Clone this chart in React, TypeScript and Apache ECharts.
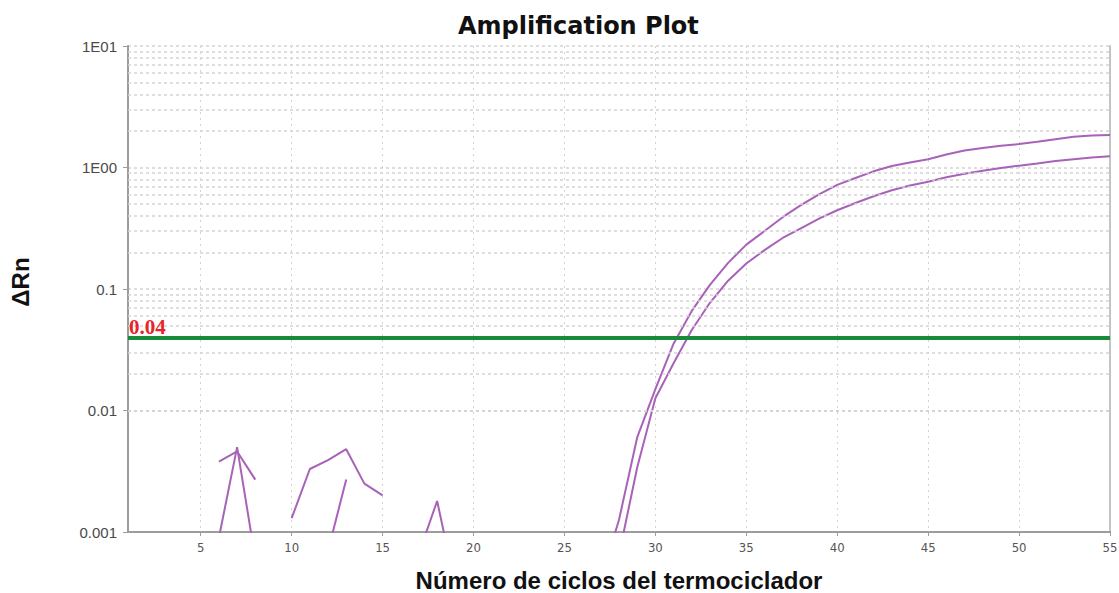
import React, { useEffect, useRef } from "react";
import * as echarts from "echarts";

// Cycle numbers and ΔRn readings for the two amplifying samples
const ampCycles = [27, 28, 29, 30, 31, 32, 33, 34, 35, 36, 37, 38, 39, 40, 41, 42, 43, 44, 45, 46, 47, 48, 49, 50, 51, 52, 53, 54, 55];
const sampleA = [0.0004, 0.00126, 0.006, 0.015, 0.0355, 0.066, 0.108, 0.164, 0.232, 0.3, 0.39, 0.49, 0.6, 0.72, 0.82, 0.93, 1.03, 1.1, 1.17, 1.28, 1.38, 1.45, 1.51, 1.56, 1.63, 1.71, 1.79, 1.83, 1.85];
const sampleB = [0.0002, 0.00065, 0.0034, 0.0126, 0.0245, 0.046, 0.077, 0.117, 0.162, 0.209, 0.263, 0.316, 0.38, 0.445, 0.51, 0.58, 0.65, 0.71, 0.764, 0.83, 0.89, 0.94, 0.99, 1.036, 1.08, 1.13, 1.17, 1.21, 1.24];

// Background noise fragments from non-amplifying wells
const noise1Cycles = [6, 7, 8];
const noise1 = [0.0038, 0.0046, 0.0027];
const noise2Cycles = [6, 7, 8];
const noise2 = [0.0009, 0.005, 0.0006];
const noise3Cycles = [10, 11, 12, 13, 14, 15];
const noise3 = [0.0013, 0.0033, 0.0039, 0.0048, 0.0025, 0.002];
const noise4Cycles = [12, 13];
const noise4 = [0.0007, 0.0027];
const noise5Cycles = [17, 18, 19];
const noise5 = [0.00067, 0.0018, 0.00036];

// Detection threshold
const threshold = 0.04;

// Axis ticks and labels
const xTicks = [5, 10, 15, 20, 25, 30, 35, 40, 45, 50, 55];
const yTickLabels = ["0.001", "0.01", "0.1", "1E00", "1E01"];
const yMin = 0.001;
const yMax = 10;

const PURPLE = "#a862b8";
const GREEN = "#198a3a";
const GRID_GREY = "#d4d4d4";
const AXIS_GREY = "#9c9c9c";

const zip = (xs: number[], ys: number[]) => xs.map((x, i) => [x, ys[i]]);

// Log-distributed minor grid values (2..9 in each decade)
const minorGrid: number[] = [];
for (let e = -3; e < 1; e++) {
  for (let m = 2; m <= 9; m++) minorGrid.push(m * Math.pow(10, e));
}

export default function App() {
  const ref = useRef<HTMLDivElement>(null);

  useEffect(() => {
    document.body.style.margin = "0";
    const chart = echarts.init(ref.current!, null, { renderer: "svg" });

    const curve = (name: string, xs: number[], ys: number[]) => ({
      name,
      type: "line",
      data: zip(xs, ys),
      symbol: "none",
      showSymbol: false,
      clip: true,
      silent: true,
      z: 4,
      lineStyle: { color: PURPLE, width: 2 },
    });

    chart.setOption({
      animation: false,
      backgroundColor: "#ffffff",
      title: {
        text: "Amplification Plot",
        left: 453,
        top: 9,
        textStyle: {
          fontFamily: "DejaVu Sans",
          fontWeight: "bold",
          fontSize: 24,
          color: "#111",
        },
      },
      grid: {
        left: 128,
        right: 9,
        top: 46,
        bottom: 61,
        outerBoundsMode: "none",
      },
      xAxis: {
        type: "value",
        min: 1,
        max: 55,
        name: "Número de ciclos del termociclador",
        nameLocation: "middle",
        nameGap: 36,
        nameTextStyle: {
          fontFamily: "Liberation Sans",
          fontWeight: "bold",
          fontSize: 24,
          color: "#111",
        },
        axisLine: { show: true, lineStyle: { color: AXIS_GREY, width: 2 } },
        axisTick: {
          show: true,
          customValues: xTicks,
          length: 4,
          lineStyle: { color: AXIS_GREY },
        },
        axisLabel: {
          customValues: xTicks,
          margin: 9,
          fontFamily: "'Liberation Sans Narrow', 'DejaVu Sans Condensed', sans-serif",
          fontSize: 13,
          color: "#555",
        },
        splitLine: {
          show: true,
          lineStyle: { color: GRID_GREY, type: [2, 4], width: 1 },
        },
      },
      yAxis: [
        {
          type: "log",
          logBase: 10,
          min: yMin,
          max: yMax,
          name: "ΔRn",
          nameLocation: "middle",
          nameGap: 96,
          nameRotate: 90,
          nameTextStyle: {
            fontFamily: "Liberation Sans",
            fontWeight: "bold",
            fontSize: 24,
            color: "#111",
            padding: [0, 0, 0, 14],
          },
          axisLine: { show: true, lineStyle: { color: AXIS_GREY, width: 2 } },
          axisTick: { show: true, length: 5, lineStyle: { color: AXIS_GREY } },
          axisLabel: {
            margin: 11,
            fontFamily: "Liberation Sans",
            fontSize: 15,
            color: "#4a4a4a",
            formatter: (v: number) =>
              yTickLabels[Math.round(Math.log10(v)) + 3] ?? "",
          },
          splitLine: {
            show: true,
            lineStyle: { color: GRID_GREY, type: [3, 3], width: 1.5 },
          },
        },
        {
          type: "log",
          logBase: 10,
          min: yMin,
          max: yMax,
          position: "right",
          axisLine: { show: true, lineStyle: { color: "#c4c4c4", width: 2 } },
          axisTick: { show: false },
          axisLabel: { show: false },
          splitLine: { show: false },
        },
      ],
      series: [
        {
          name: "minor-grid",
          type: "line",
          data: [],
          silent: true,
          z: 1,
          markLine: {
            silent: true,
            symbol: "none",
            label: { show: false },
            lineStyle: { color: GRID_GREY, type: [3, 3], width: 1.5 },
            data: minorGrid.map((v) => ({ yAxis: v })),
          },
        },
        {
          name: "threshold",
          type: "line",
          data: [],
          silent: true,
          z: 5,
          markLine: {
            silent: true,
            symbol: "none",
            lineStyle: { color: GREEN, width: 4, type: "solid" },
            label: {
              show: true,
              position: "insideStartTop",
              distance: [1, 0],
              formatter: String(threshold),
              color: "#e8232b",
              fontFamily: "'Liberation Serif', serif",
              fontWeight: "bold",
              fontSize: 21,
            },
            data: [{ yAxis: threshold }],
          },
        },
        curve("Sample A", ampCycles, sampleA),
        curve("Sample B", ampCycles, sampleB),
        curve("Well 1", noise1Cycles, noise1),
        curve("Well 2", noise2Cycles, noise2),
        curve("Well 3", noise3Cycles, noise3),
        curve("Well 4", noise4Cycles, noise4),
        curve("Well 5", noise5Cycles, noise5),
      ],
    });

    return () => chart.dispose();
  }, []);

  return <div ref={ref} style={{ width: 1119, height: 593 }} />;
}
